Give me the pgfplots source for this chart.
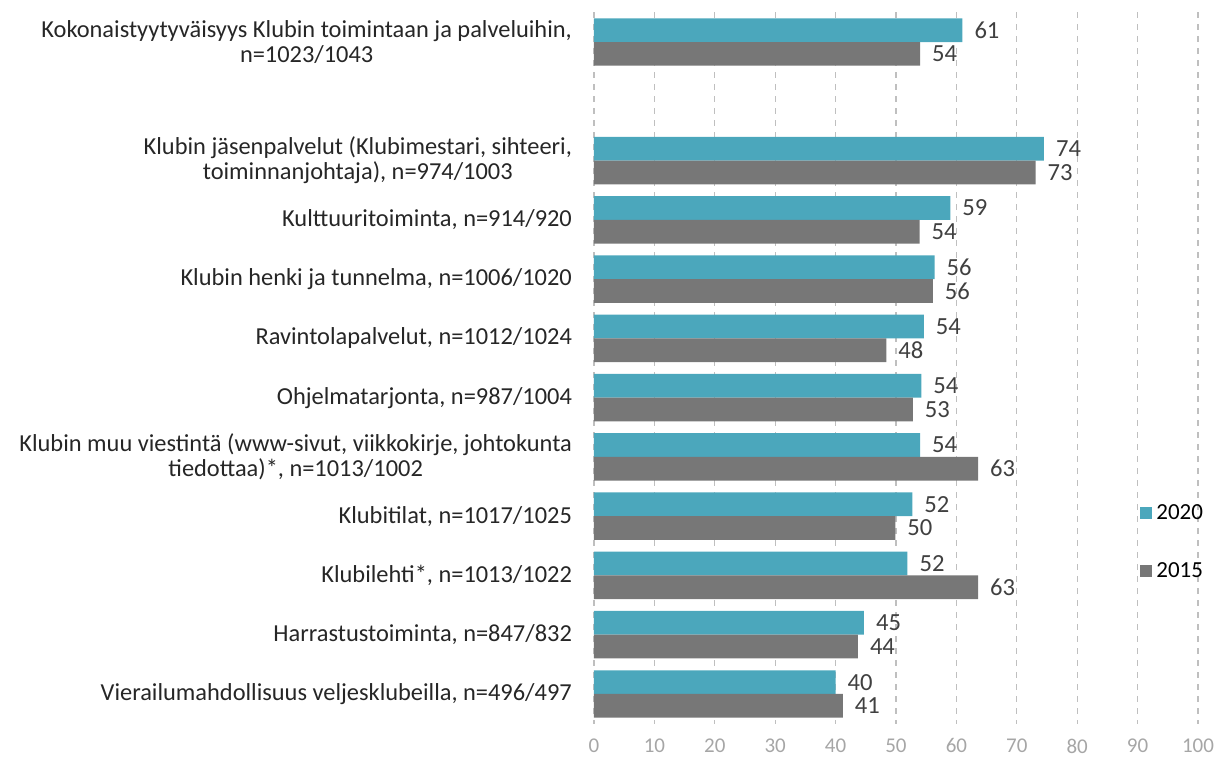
\documentclass[border=0pt]{standalone}
\usepackage{pgfplots}
\pgfplotsset{compat=1.18}
\usepackage{pgfplotstable}
\usepackage{fontspec}
\setmainfont{Carlito}
\definecolor{c20}{HTML}{4BA7BC}
\definecolor{c15}{HTML}{777777}
\definecolor{lab}{HTML}{404040}
\definecolor{cat}{HTML}{262626}
\definecolor{tickc}{HTML}{A6A6A6}
\definecolor{gridc}{HTML}{BFBFBF}

\pgfplotstableread{
y v20 l20 v15 l15
0 61.0 61 54.0 54
2 74.5 74 73.1 73
3 59.0 59 53.9 54
4 56.4 56 56.1 56
5 54.6 54 48.4 48
6 54.2 54 52.8 53
7 54.0 54 63.6 63
8 52.7 52 49.9 50
9 51.9 52 63.6 63
10 44.7 45 43.7 44
11 40.0 40 41.2 41
}\data

\begin{document}
\begin{tikzpicture}
\path[use as bounding box] (0,0) rectangle (608.5pt,379pt);
\begin{axis}[
  at={(297pt,17.2pt)}, anchor=south west,
  width=302pt, height=355.6pt, scale only axis,
  xbar, bar width=0.4,
  xmin=0, xmax=100, ymin=-0.5, ymax=11.5, y dir=reverse,
  xtick={0,10,...,100},
  ytick={0,2,3,4,5,6,7,8,9,10,11},
  yticklabels={
    {Kokonaistyytyväisyys Klubin toimintaan ja palveluihin,\\n=1023/1043},
    {Klubin jäsenpalvelut (Klubimestari, sihteeri,\\toiminnanjohtaja), n=974/1003},
    {Kulttuuritoiminta, n=914/920},
    {Klubin henki ja tunnelma, n=1006/1020},
    {Ravintolapalvelut, n=1012/1024},
    {Ohjelmatarjonta, n=987/1004},
    {Klubin muu viestintä (www-sivut, viikkokirje, johtokunta\\tiedottaa)*, n=1013/1002},
    {Klubitilat, n=1017/1025},
    {Klubilehti*, n=1013/1022},
    {Harrastustoiminta, n=847/832},
    {Vierailumahdollisuus veljesklubeilla, n=496/497}
  },
  yticklabel style={align=center, font=\fontsize{12.2}{12.5}\selectfont, text=cat, xshift=-7.5pt},
  xticklabel style={font=\fontsize{10.5}{12}\selectfont, text=tickc, yshift=-4pt},
  /pgf/number format/assume math mode=true,
  axis line style={draw=none},
  major tick length=0pt,
  xmajorgrids, grid style={dashed, gridc, line width=0.6pt},
  nodes near coords,
  point meta=explicit symbolic,
  every node near coord/.append style={anchor=west, font=\fontsize{12.3}{12.5}\selectfont, text=lab, xshift=2.5pt},
  legend image code/.code={\fill[#1] (0pt,-3pt) rectangle (6pt,3pt);},
  legend style={draw=none, fill=none, at={(0.894,0.255)}, anchor=west,
    font=\fontsize{11.5}{12}\selectfont, row sep=16pt, text=black},
  legend cell align=left,
]
\addplot[fill=c20, draw=none, bar shift=-0.2] table[x=v20, y=y, meta=l20] {\data};
\addplot[fill=c15, draw=none, bar shift=0.2] table[x=v15, y=y, meta=l15] {\data};
\legend{2020,2015}
\end{axis}
\end{tikzpicture}
\end{document}
